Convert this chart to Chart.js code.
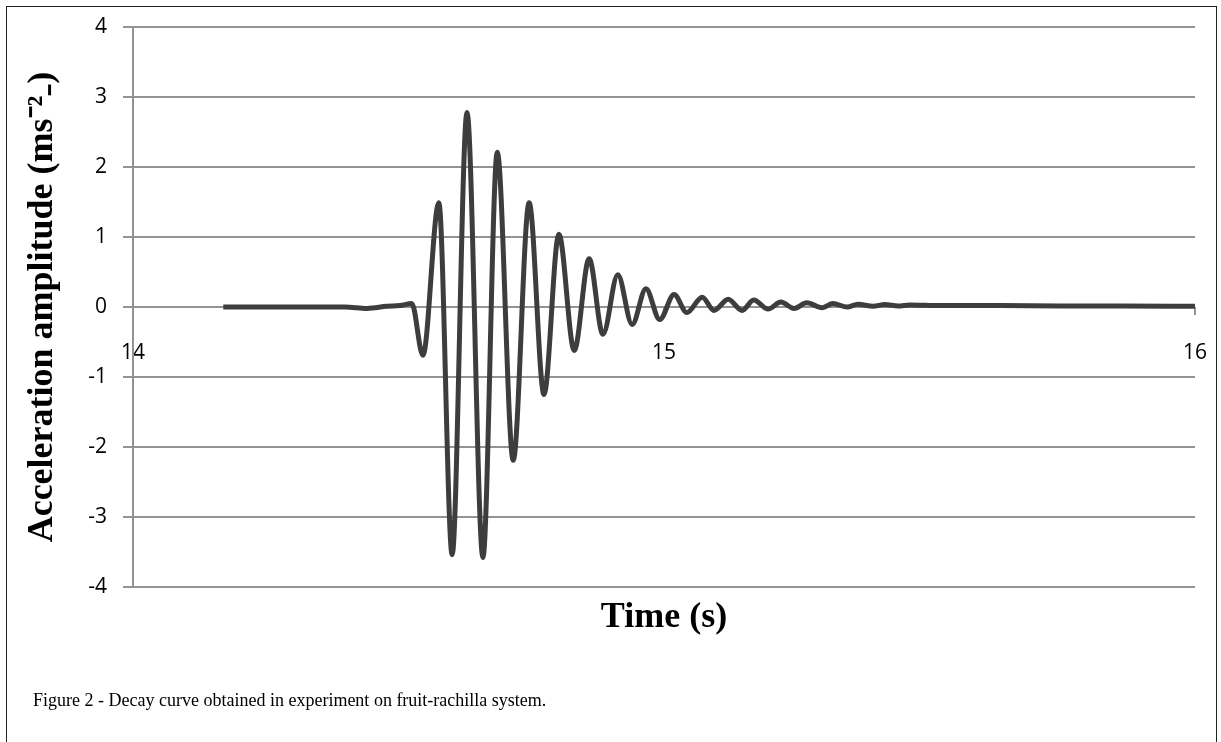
<!DOCTYPE html>
<html>
<head>
<meta charset="utf-8">
<title>Decay curve</title>
<script src="https://cdn.jsdelivr.net/npm/chart.js"></script>
<style>
  html, body { margin: 0; padding: 0; background: #fff; overflow: hidden; }
  #wrap { position: relative; width: 1221px; height: 742px; }
  #frame { position: absolute; left: 6px; top: 6px; width: 1211px; height: 800px; border: 1.5px solid #222; box-sizing: border-box; pointer-events: none; }
  #caption { position: absolute; left: 33px; top: 690px; font-family: "Liberation Serif", "Times New Roman", serif; font-size: 18px; color: #000; }
</style>
</head>
<body>
<div id="wrap">
  <canvas id="decayChart" width="1221" height="742"></canvas>
  <div id="frame"></div>
  <div id="caption">Figure 2 - Decay curve obtained in experiment on fruit-rachilla system.</div>
</div>
<script>
// Data (time in s, acceleration in m/s^2)
const timeValues = [
  14.170, 14.314, 14.399, 14.441, 14.478, 14.503, 14.525, 14.546, 14.576, 14.601,
  14.629, 14.659, 14.686, 14.716, 14.746, 14.774, 14.802, 14.831, 14.859, 14.885,
  14.913, 14.940, 14.966, 14.992, 15.019, 15.043, 15.072, 15.094, 15.121, 15.147,
  15.169, 15.196, 15.220, 15.245, 15.269, 15.298, 15.318, 15.345, 15.365, 15.394,
  15.416, 15.441, 15.463, 15.520, 15.633, 15.746, 15.859, 16.000
];
const accelValues = [
  0.00, 0.00, 0.00, -0.02, 0.01, 0.02, 0.05, -0.69, 1.49, -3.54,
  2.78, -3.58, 2.21, -2.19, 1.49, -1.25, 1.04, -0.62, 0.69, -0.39,
  0.46, -0.25, 0.26, -0.18, 0.18, -0.08, 0.14, -0.05, 0.11, -0.05,
  0.10, -0.03, 0.07, -0.02, 0.06, -0.01, 0.05, 0.00, 0.04, 0.01,
  0.035, 0.015, 0.03, 0.02, 0.02, 0.015, 0.015, 0.01
];
const xTicks = [14, 15, 16];
const yTicks = [-4, -3, -2, -1, 0, 1, 2, 3, 4];

const gridGray = '#939393';
const tickFont = { family: '"Open Sans", "Noto Sans", sans-serif', size: 21 };
const titleFont = { family: '"Liberation Serif", "Times New Roman", serif', size: 36, weight: 'bold' };

// keep the plot box fixed: no extra room for edge labels
function noEdgePadding(scale) {
  scale.paddingLeft = 0;
  scale.paddingRight = 0;
  scale.paddingTop = 0;
  scale.paddingBottom = 0;
}

function initDecayChart() {
  const ctx = document.getElementById('decayChart').getContext('2d');
  const points = timeValues.map((t, i) => ({ x: t, y: accelValues[i] }));

  new Chart(ctx, {
    type: 'line',
    data: {
      datasets: [{
        label: 'Acceleration',
        data: points,
        borderColor: '#3d3d3d',
        borderWidth: 5,
        pointRadius: 0,
        cubicInterpolationMode: 'monotone',
        fill: false
      }]
    },
    options: {
      responsive: false,
      animation: false,
      layout: { padding: { left: 0, top: 27, right: 26, bottom: 0 } },
      plugins: {
        legend: { display: false },
        tooltip: { enabled: false }
      },
      scales: {
        x: {
          type: 'linear',
          position: { y: 0 },
          min: xTicks[0],
          max: xTicks[xTicks.length - 1],
          afterBuildTicks: (scale) => { scale.ticks = xTicks.map(v => ({ value: v })); },
          ticks: { color: '#000', font: tickFont, padding: 25, maxRotation: 0 },
          grid: { drawOnChartArea: false, drawTicks: true, tickLength: 8, color: gridGray, lineWidth: 2 },
          border: { display: false },
          afterFit: noEdgePadding
        },
        xTitle: {
          type: 'linear',
          axis: 'x',
          position: 'bottom',
          min: xTicks[0],
          max: xTicks[xTicks.length - 1],
          ticks: { display: false },
          grid: { display: false },
          border: { display: false },
          title: { display: true, text: 'Time (s)', color: '#000', font: titleFont, padding: { top: 0, bottom: 103 } },
          afterFit: (scale) => { noEdgePadding(scale); scale.height = 155; }
        },
        y: {
          type: 'linear',
          position: 'left',
          min: yTicks[0],
          max: yTicks[yTicks.length - 1],
          afterBuildTicks: (scale) => { scale.ticks = yTicks.map(v => ({ value: v })); },
          ticks: { color: '#000', font: tickFont, padding: 16 },
          grid: { color: gridGray, lineWidth: 2, tickLength: 10 },
          border: { display: true, color: gridGray, width: 2 },
          title: { display: true, text: 'Acceleration amplitude (ms⁻²₋)', color: '#000', font: titleFont, padding: { top: 21, bottom: 0 } },
          afterFit: (scale) => { noEdgePadding(scale); scale.width = 133; }
        }
      }
    }
  });
}

document.addEventListener('DOMContentLoaded', initDecayChart);
</script>
</body>
</html>
